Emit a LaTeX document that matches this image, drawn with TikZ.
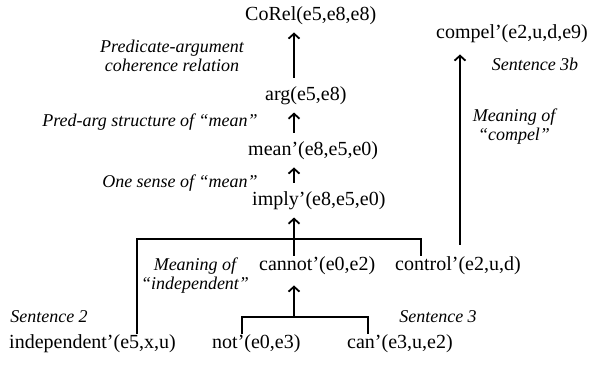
\documentclass[tikz,border=0pt]{standalone}
\usepackage{fontspec}
\setmainfont{Liberation Serif}
\usetikzlibrary{arrows.meta,positioning}

\begin{document}
\begin{tikzpicture}[
  x=1pt, y=-1pt,
  term/.style={anchor=base west, inner sep=0pt, font=\fontsize{20}{24}\selectfont},
  gloss/.style={anchor=base, inner sep=0pt, align=center, font=\fontsize{18}{19}\selectfont\itshape},
  link/.style={draw, line width=1.8pt, -{Straight Barb[length=5pt,width=11pt]}, shorten >=8pt, shorten <=8pt},
  joint/.style={draw, line width=1.8pt}
]
\useasboundingbox (0,0) rectangle (589,365);
\node[term] (corel) at (245,20) {CoRel(e5,e8,e8)};
\node[term] (arg) at (265,100) {arg(e5,e8)};
\node[term] (mean) at (248,155) {mean’(e8,e5,e0)};
\node[term] (imply) at (252,205) {imply’(e8,e5,e0)};
\node[term] (cannot) at (259,270) {cannot’(e0,e2)};
\node[term] (control) at (395,270) {control’(e2,u,d)};
\node[term] (compel) at (436,38) {compel’(e2,u,d,e9)};
\node[term] (indep) at (9,348) {independent’(e5,x,u)};
\node[term] (not) at (212,348) {not’(e0,e3)};
\node[term] (can) at (347,348) {can’(e3,u,e2)};
\node[gloss] (predcoh) at (172,71) {Predicate-argument\\coherence relation};
\node[gloss] (predarg) at (150,126) {Pred-arg structure of “mean”};
\node[gloss] (sense) at (180,187) {One sense of “mean”};
\node[gloss] (gindep) at (195,289) {Meaning of\\“independent”};
\node[gloss] (gcompel) at (514,140) {Meaning of\\“compel”};
\node[gloss] (sent2) at (49,322) {Sentence 2};
\node[gloss] (sent3) at (438,322) {Sentence 3};
\node[gloss] (sent3b) at (535,70) {Sentence 3b};
\coordinate (spine) at (294,0);
\coordinate (upper) at (294,239);
\coordinate (lower) at (294,317);
\coordinate (jindep) at (137,239);
\coordinate (jcontrol) at (421,239);
\coordinate (jnot) at (242,317);
\coordinate (jcan) at (368,317);
\coordinate (jcompel) at (460,0);
\draw[link] (arg.north -| spine) -- (corel.south -| spine);
\draw[link] (mean.north -| spine) -- (arg.south -| spine);
\draw[link] (imply.north -| spine) -- (mean.south -| spine);
\draw[link, shorten <=0pt] (upper) -- (imply.south -| spine);
\draw[joint] (indep.north -| jindep) -- (jindep) -- (jcontrol) -- (control.north -| jcontrol);
\draw[joint] (cannot.north -| upper) -- (upper);
\draw[link, shorten <=0pt, shorten >=11pt] (lower) -- (cannot.south -| lower);
\draw[joint] (not.north -| jnot) -- (jnot) -- (jcan) -- (can.north -| jcan);
\draw[link, shorten <=11pt, shorten >=12pt] (control.north -| jcompel) -- (compel.south -| jcompel);
\end{tikzpicture}
\end{document}
